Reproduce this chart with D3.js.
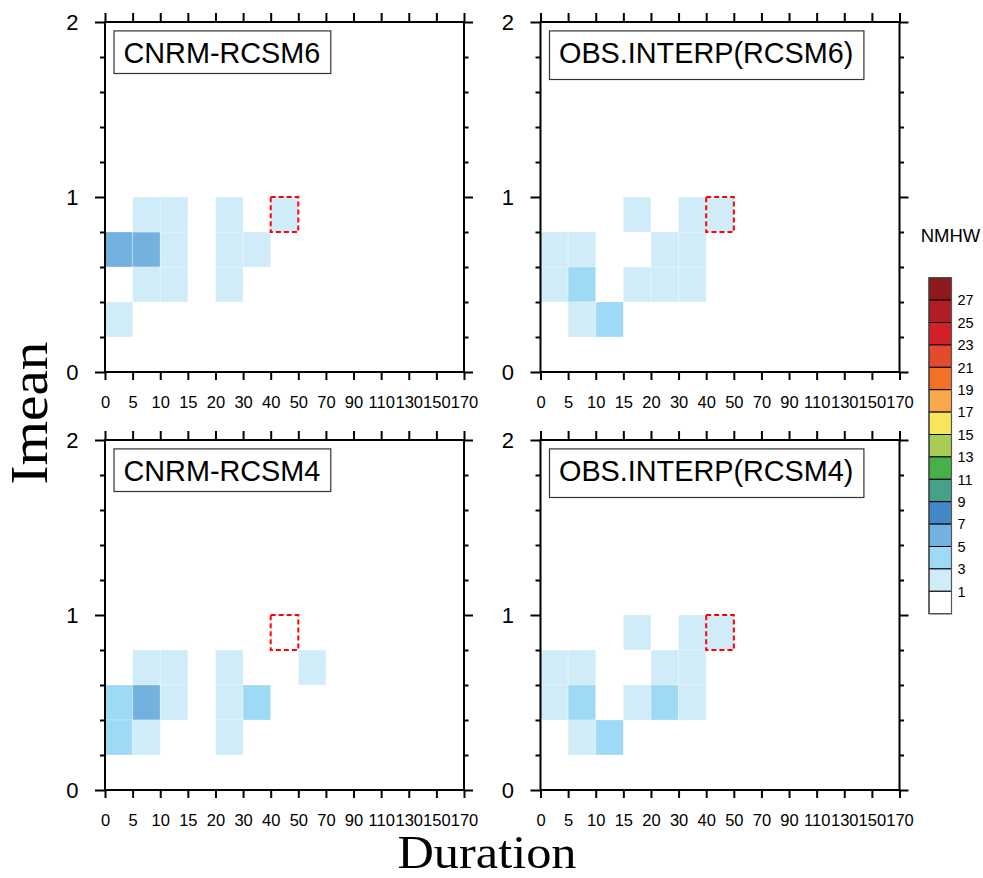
<!DOCTYPE html>
<html><head><meta charset="utf-8">
<script src="https://cdn.jsdelivr.net/npm/d3@7"></script>
<style>body{margin:0;background:#fff}svg{display:block}</style>
</head><body>
<svg id="chart" width="983" height="878"></svg>
<script>
// ---- data ----
const durationEdges = ["0","5","10","15","20","30","40","50","70","90","110","130","150","170"];
const imeanTicks = [0, 1, 2];
const imeanMinor = [0.2, 0.4, 0.6, 0.8, 1.2, 1.4, 1.6, 1.8];
const panelTitles = ["CNRM-RCSM6", "OBS.INTERP(RCSM6)", "CNRM-RCSM4", "OBS.INTERP(RCSM4)"];
const levels = [1,3,5,7,9,11,13,15,17,19,21,23,25,27];
const levelColors = ["#ffffff","#d1ecf9","#9ed9f5","#73b2df","#4488c7","#46a08a","#48b04b","#a8cd52",
                     "#f9e55c","#f7a949","#f37027","#e34a2e","#d32029","#b31c25","#8e191d"];
// cells: [duration bin start, imean bin start, NMHW count]
const cnrmRcsm6 = [["0",0.2,2],["0",0.6,6],["5",0.6,6],["5",0.4,2],["10",0.4,2],["10",0.6,2],
                   ["5",0.8,2],["10",0.8,2],["20",0.4,2],["20",0.6,2],["20",0.8,2],["30",0.6,2],["40",0.8,2]];
const obsRcsm6 = [["0",0.4,2],["0",0.6,2],["5",0.6,2],["5",0.4,4],["5",0.2,2],["10",0.2,4],
                  ["15",0.8,2],["15",0.4,2],["20",0.4,2],["20",0.6,2],["30",0.4,2],["30",0.6,2],["30",0.8,2],["40",0.8,2]];
const cnrmRcsm4 = [["5",0.6,2],["10",0.6,2],["20",0.6,2],["50",0.6,2],
                   ["0",0.4,4],["5",0.4,6],["10",0.4,2],["20",0.4,2],["30",0.4,4],
                   ["0",0.2,4],["5",0.2,2],["20",0.2,2]];
const obsRcsm4 = [["15",0.8,2],["30",0.8,2],["40",0.8,2],
                  ["0",0.6,2],["5",0.6,2],["20",0.6,2],["30",0.6,2],
                  ["0",0.4,2],["5",0.4,4],["15",0.4,2],["20",0.4,4],["30",0.4,2],
                  ["5",0.2,2],["10",0.2,4]];
const highlight = ["40", 0.8]; // dashed box cell
const panelData = [cnrmRcsm6, obsRcsm6, cnrmRcsm4, obsRcsm4];

// ---- layout ----
const svg = d3.select("#chart");
const W = 359, H = 350;
const origins = [[105,22],[540.5,22],[105,440],[540.5,440]];
const color = d3.scaleThreshold().domain(levels).range(levelColors);
const sans = "'Liberation Sans', Arial, Helvetica, sans-serif";
const serif = "'Liberation Serif', 'Times New Roman', serif";

panelData.forEach((cells, p) => {
  const [x0, y0] = origins[p];
  const g = svg.append("g").attr("transform", `translate(${x0},${y0})`);
  const x = d3.scalePoint().domain(durationEdges).range([0, W]);
  const step = x.step();
  const y = d3.scaleLinear().domain([0, 2]).range([H, 0]);
  const binW = 0.2;

  g.selectAll("rect.cell").data(cells).enter().append("rect")
    .attr("class","cell")
    .attr("x", d => x(d[0]))
    .attr("y", d => y(d[1] + binW))
    .attr("width", step)
    .attr("height", y(0) - y(binW))
    .attr("fill", d => color(d[2]))
    .attr("stroke", "#ffffff").attr("stroke-opacity", 0.35).attr("stroke-width", 0.8);

  // dashed highlight box
  g.append("rect")
    .attr("x", x(highlight[0])).attr("y", y(highlight[1] + binW))
    .attr("width", step).attr("height", y(0) - y(binW))
    .attr("fill","none").attr("stroke","#ff0000").attr("stroke-width",2)
    .attr("stroke-dasharray","5,3");

  const axStyle = sel => { sel.select(".domain").remove();
    sel.attr("font-size", null).attr("font-family", null);
    sel.selectAll("line").attr("stroke","#000").attr("stroke-width",2); };
  // bottom
  const bx = g.append("g").attr("transform",`translate(0,${H})`)
    .call(d3.axisBottom(x).tickSize(8).tickPadding(16)).call(axStyle);
  bx.selectAll("text").style("font-family", sans).style("font-size", "16.5px").attr("fill","#000");
  // top
  g.append("g").call(d3.axisTop(x).tickSize(9).tickFormat("")).call(axStyle);
  // left major + minor
  const ly = g.append("g").call(d3.axisLeft(y).tickValues(imeanTicks).tickSize(10).tickPadding(16.5).tickFormat(d3.format("d"))).call(axStyle);
  ly.selectAll("text").style("font-family", sans).style("font-size", "22px").attr("fill","#000");
  g.append("g").call(d3.axisLeft(y).tickValues(imeanMinor).tickSize(5).tickFormat("")).call(axStyle);
  // right major + minor
  g.append("g").attr("transform",`translate(${W},0)`)
    .call(d3.axisRight(y).tickValues(imeanTicks).tickSize(9).tickFormat("")).call(axStyle);
  g.append("g").attr("transform",`translate(${W},0)`)
    .call(d3.axisRight(y).tickValues(imeanMinor).tickSize(4.5).tickFormat("")).call(axStyle);

  // frame
  g.append("rect").attr("width", W).attr("height", H)
    .attr("fill","none").attr("stroke","#000").attr("stroke-width",2);

  // title box
  const title = panelTitles[p];
  const baseline = 40.5;
  const box = g.append("rect");
  const t = g.append("text").attr("x", 18.5).attr("y", baseline)
    .style("font-family", sans).style("font-size", "28.8px").attr("fill","#000").text(title);
  const tw = t.node().getComputedTextLength();
  const desc = /[()]/.test(title) ? 17 : 11;
  box.attr("x", 9).attr("y", baseline - 31.6)
    .attr("width", tw + 20).attr("height", 31.6 + desc)
    .attr("fill","#fff").attr("stroke","#333").attr("stroke-width",1.2);
});

// colorbar
const cbX = 929, cbTop = 277.7, cbW = 22.5, cbH = 22.4;
const cb = svg.append("g");
const boxes = levelColors.slice().reverse();
cb.selectAll("rect").data(boxes).enter().append("rect")
  .attr("x", cbX).attr("y", (d,i) => cbTop + i*cbH)
  .attr("width", cbW).attr("height", cbH)
  .attr("fill", d => d).attr("stroke","#000").attr("stroke-width",1);
cb.append("rect").attr("x", cbX).attr("y", cbTop).attr("width", cbW).attr("height", cbH*boxes.length)
  .attr("fill","none").attr("stroke","#555").attr("stroke-width",1.2);
const levRev = levels.slice().reverse();
cb.selectAll("text.lev").data(levRev).enter().append("text")
  .attr("class","lev")
  .attr("x", cbX + cbW + 6).attr("y", (d,i) => cbTop + (i+1)*cbH)
  .attr("dy","0.36em")
  .style("font-family", sans).style("font-size", "14.5px").attr("fill","#000")
  .text(d => d);
svg.append("text").attr("x", 950.5).attr("y", 242).attr("text-anchor","middle")
  .style("font-family", sans).style("font-size", "18.5px").attr("fill","#000").text("NMHW");

// axis titles
svg.append("text").attr("x", 487).attr("y", 868).attr("text-anchor","middle")
  .attr("textLength", 179).attr("lengthAdjust","spacingAndGlyphs")
  .style("font-family", serif).style("font-size", "46px").attr("fill","#000").text("Duration");
svg.append("text").attr("transform","translate(47,413) rotate(-90)").attr("text-anchor","middle")
  .attr("textLength", 143).attr("lengthAdjust","spacingAndGlyphs")
  .style("font-family", serif).style("font-size", "52px").attr("fill","#000").text("Imean");
</script>
</body></html>
